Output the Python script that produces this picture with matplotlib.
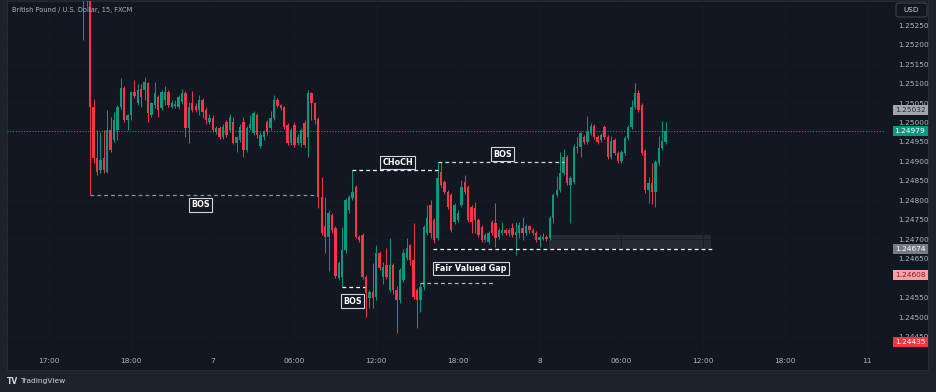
import matplotlib
matplotlib.use('Agg')
import matplotlib.pyplot as plt
import matplotlib.transforms as mtransforms
from matplotlib.patches import Rectangle, FancyBboxPatch

# GBPUSD 15m candles
opens = [
    1.25340, 1.25335, 1.25320, 1.25040, 1.24909, 1.24878, 1.24909, 1.24873, 1.24981, 1.24955,
    1.24981, 1.25040, 1.25089, 1.25006, 1.25019, 1.25079, 1.25050, 1.25086, 1.25084, 1.25102,
    1.25019, 1.25045, 1.25066, 1.25037, 1.25058, 1.25079, 1.25040, 1.25043, 1.25040, 1.25053,
    1.25076, 1.24986, 1.25050, 1.25043, 1.25032, 1.25058, 1.25032, 1.25001, 1.25012, 1.24976,
    1.24986, 1.24963, 1.25001, 1.24981, 1.25001, 1.24947, 1.24955, 1.25001, 1.24929, 1.24986,
    1.24973, 1.25019, 1.24940, 1.24963, 1.25001, 1.24986, 1.25012, 1.25058, 1.25045, 1.25040,
    1.24994, 1.24947, 1.24994, 1.24947, 1.24947, 1.24999, 1.24963, 1.25076, 1.25050, 1.25009,
    1.24808, 1.24734, 1.24706, 1.24762, 1.24729, 1.24600, 1.24603, 1.24672, 1.24775, 1.24806,
    1.24834, 1.24706, 1.24711, 1.24603, 1.24549, 1.24564, 1.24551, 1.24665, 1.24603, 1.24634,
    1.24570, 1.24634, 1.24570, 1.24544, 1.24595, 1.24652, 1.24685, 1.24647, 1.24570, 1.24544,
    1.24577, 1.24716, 1.24788, 1.24749, 1.24703, 1.24873, 1.24847, 1.24821, 1.24814, 1.24744,
    1.24749, 1.24788, 1.24847, 1.24834, 1.24783, 1.24780, 1.24749, 1.24731, 1.24698, 1.24693,
    1.24744, 1.24742, 1.24706, 1.24716, 1.24724, 1.24724, 1.24729, 1.24711, 1.24716, 1.24729,
    1.24716, 1.24734, 1.24724, 1.24716, 1.24698, 1.24701, 1.24706, 1.24703, 1.24755, 1.24814,
    1.24827, 1.24870, 1.24911, 1.24839, 1.24847, 1.24937, 1.24937, 1.24963, 1.24950, 1.24973,
    1.24991, 1.24963, 1.24955, 1.24988, 1.24963, 1.24911, 1.24955, 1.24922, 1.24901, 1.24922,
    1.24960, 1.24988, 1.25040, 1.25076, 1.25045, 1.24927, 1.24827, 1.24844, 1.24821, 1.24896,
    1.24934, 1.24950,
]
highs = [
    1.25360, 1.25350, 1.25335, 1.25060, 1.24981, 1.24976, 1.24981, 1.25032, 1.25014, 1.25027,
    1.25045, 1.25114, 1.25094, 1.25022, 1.25081, 1.25109, 1.25099, 1.25099, 1.25117, 1.25104,
    1.25053, 1.25104, 1.25071, 1.25084, 1.25094, 1.25084, 1.25058, 1.25058, 1.25071, 1.25086,
    1.25081, 1.25053, 1.25081, 1.25050, 1.25071, 1.25063, 1.25040, 1.25022, 1.25019, 1.24991,
    1.24991, 1.24996, 1.25006, 1.25022, 1.25014, 1.24966, 1.24996, 1.25014, 1.24991, 1.25019,
    1.25030, 1.25025, 1.24976, 1.24981, 1.25006, 1.25030, 1.25071, 1.25063, 1.25048, 1.25043,
    1.24999, 1.24986, 1.25001, 1.24970, 1.24986, 1.25006, 1.25084, 1.25079, 1.25053, 1.25014,
    1.24860, 1.24808, 1.24775, 1.24767, 1.24734, 1.24644, 1.24731, 1.24806, 1.24814, 1.24878,
    1.24839, 1.24711, 1.24716, 1.24608, 1.24570, 1.24639, 1.24685, 1.24670, 1.24641, 1.24677,
    1.24703, 1.24639, 1.24580, 1.24626, 1.24675, 1.24703, 1.24688, 1.24742, 1.24575, 1.24587,
    1.24737, 1.24788, 1.24801, 1.24755, 1.24898, 1.24898, 1.24852, 1.24827, 1.24819, 1.24793,
    1.24775, 1.24852, 1.24865, 1.24839, 1.24788, 1.24796, 1.24755, 1.24737, 1.24716, 1.24721,
    1.24749, 1.24793, 1.24729, 1.24744, 1.24729, 1.24729, 1.24742, 1.24744, 1.24744, 1.24757,
    1.24739, 1.24737, 1.24729, 1.24721, 1.24711, 1.24716, 1.24711, 1.24760, 1.24819, 1.24862,
    1.24924, 1.24932, 1.24917, 1.24862, 1.24945, 1.24963, 1.24976, 1.24968, 1.25017, 1.24999,
    1.24996, 1.24968, 1.24973, 1.24994, 1.24968, 1.24965, 1.24960, 1.24927, 1.24929, 1.24965,
    1.24994, 1.25058, 1.25102, 1.25084, 1.25050, 1.24932, 1.24860, 1.24896, 1.24904, 1.24965,
    1.25004, 1.25001,
]
lows = [
    1.25212, 1.25300, 1.24814, 1.24896, 1.24865, 1.24870, 1.24870, 1.24870, 1.24924, 1.24950,
    1.24955, 1.25035, 1.25001, 1.24981, 1.25006, 1.25063, 1.25045, 1.25040, 1.25058, 1.25001,
    1.25014, 1.25037, 1.25014, 1.25032, 1.25045, 1.25040, 1.25037, 1.25037, 1.25035, 1.25048,
    1.24963, 1.24947, 1.25027, 1.25027, 1.25019, 1.25012, 1.24996, 1.24996, 1.24976, 1.24970,
    1.24958, 1.24958, 1.24963, 1.24976, 1.24945, 1.24924, 1.24950, 1.24911, 1.24924, 1.24981,
    1.24968, 1.24960, 1.24934, 1.24955, 1.24968, 1.24981, 1.25006, 1.25040, 1.25032, 1.24983,
    1.24942, 1.24942, 1.24937, 1.24942, 1.24937, 1.24937, 1.24911, 1.25006, 1.24996, 1.24780,
    1.24711, 1.24665, 1.24619, 1.24716, 1.24600, 1.24595, 1.24577, 1.24665, 1.24767, 1.24801,
    1.24703, 1.24693, 1.24598, 1.24500, 1.24523, 1.24523, 1.24544, 1.24621, 1.24585, 1.24598,
    1.24564, 1.24559, 1.24459, 1.24536, 1.24590, 1.24647, 1.24634, 1.24546, 1.24472, 1.24513,
    1.24570, 1.24711, 1.24703, 1.24690, 1.24698, 1.24834, 1.24816, 1.24778, 1.24719, 1.24739,
    1.24744, 1.24783, 1.24816, 1.24744, 1.24716, 1.24716, 1.24706, 1.24693, 1.24693, 1.24688,
    1.24711, 1.24680, 1.24701, 1.24711, 1.24711, 1.24708, 1.24706, 1.24659, 1.24703, 1.24698,
    1.24711, 1.24716, 1.24711, 1.24693, 1.24680, 1.24698, 1.24696, 1.24698, 1.24742, 1.24808,
    1.24821, 1.24865, 1.24839, 1.24742, 1.24842, 1.24922, 1.24911, 1.24945, 1.24945, 1.24968,
    1.24958, 1.24945, 1.24950, 1.24958, 1.24906, 1.24906, 1.24917, 1.24896, 1.24896, 1.24917,
    1.24955, 1.24983, 1.25035, 1.25027, 1.24917, 1.24819, 1.24793, 1.24790, 1.24783, 1.24891,
    1.24929, 1.24945,
]
closes = [
    1.25320, 1.25320, 1.25040, 1.24909, 1.24873, 1.24904, 1.24878, 1.24981, 1.24929, 1.25006,
    1.25040, 1.25089, 1.25006, 1.25019, 1.25079, 1.25069, 1.25084, 1.25066, 1.25104, 1.25025,
    1.25050, 1.25076, 1.25032, 1.25079, 1.25079, 1.25045, 1.25050, 1.25048, 1.25066, 1.25076,
    1.24986, 1.25040, 1.25032, 1.25032, 1.25058, 1.25027, 1.25006, 1.25012, 1.24981, 1.24986,
    1.24963, 1.24988, 1.24968, 1.25014, 1.24947, 1.24963, 1.24988, 1.24929, 1.24986, 1.24996,
    1.25025, 1.24968, 1.24968, 1.24976, 1.24976, 1.25012, 1.25058, 1.25043, 1.25037, 1.24988,
    1.24947, 1.24981, 1.24942, 1.24963, 1.24981, 1.24942, 1.25076, 1.25050, 1.25006, 1.24808,
    1.24716, 1.24706, 1.24767, 1.24724, 1.24605, 1.24639, 1.24672, 1.24801, 1.24808, 1.24821,
    1.24706, 1.24698, 1.24603, 1.24562, 1.24564, 1.24549, 1.24665, 1.24626, 1.24629, 1.24603,
    1.24634, 1.24570, 1.24544, 1.24621, 1.24665, 1.24677, 1.24647, 1.24551, 1.24544, 1.24577,
    1.24731, 1.24755, 1.24716, 1.24698, 1.24857, 1.24839, 1.24821, 1.24783, 1.24724, 1.24788,
    1.24767, 1.24834, 1.24821, 1.24749, 1.24744, 1.24749, 1.24711, 1.24698, 1.24711, 1.24716,
    1.24716, 1.24703, 1.24724, 1.24724, 1.24716, 1.24716, 1.24711, 1.24719, 1.24737, 1.24716,
    1.24734, 1.24724, 1.24716, 1.24698, 1.24706, 1.24706, 1.24701, 1.24755, 1.24814, 1.24827,
    1.24870, 1.24911, 1.24844, 1.24857, 1.24937, 1.24934, 1.24973, 1.24950, 1.24976, 1.24991,
    1.24963, 1.24950, 1.24968, 1.24963, 1.24911, 1.24953, 1.24922, 1.24901, 1.24924, 1.24960,
    1.24988, 1.25040, 1.25076, 1.25032, 1.24922, 1.24827, 1.24844, 1.24821, 1.24898, 1.24934,
    1.24953, 1.24979,
]

time_ticks = [-10, 14, 38, 62, 86, 110, 134, 158, 182, 206, 230]
time_labels = ['17:00', '18:00', '7', '06:00', '12:00', '18:00', '8', '06:00', '12:00', '18:00', '11']
price_ticks = [1.2445, 1.2450, 1.2455, 1.2460, 1.2465, 1.2470, 1.2475, 1.2480, 1.2485,
               1.2490, 1.2495, 1.2500, 1.2505, 1.2510, 1.2515, 1.2520, 1.2525]
# labels that the price scale hides behind a badge
hidden_ticks = [1.2460]

last_price = 1.24979
badge_prices = [1.25032, 1.24979, 1.24674, 1.24608, 1.24435]
badge_bg = ['#a3a6af', '#089981', '#787b86', '#f7a1a6', '#f23645']
badge_fg = ['#2a2e39', '#ffffff', '#ffffff', '#8b1c24', '#ffffff']

bos1_level = 1.24814
bos2_level = 1.24577
choch_level = 1.24878
bos3_level = 1.24898
fvg_top = 1.24674
fvg_bottom = 1.24587
zone_top = 1.24711

UP = '#089981'
DOWN = '#f23645'
BG = '#131722'
OUTER = '#1e222d'
TXT = '#b2b5be'

W, H = 936, 392
fig = plt.figure(figsize=(W / 100, H / 100), dpi=100, facecolor=OUTER)
fig.add_artist(Rectangle((7 / W, 1 - 370 / H), (928 - 7) / W, 369 / H,
                         transform=fig.transFigure, fc=BG, ec='#2a2e39', lw=0.6, zorder=0))

ax = fig.add_axes([7 / W, 1 - 350 / H, (885 - 7) / W, 349 / H])
ax.set_facecolor(BG)
ax.patch.set_alpha(0)
for s in ax.spines.values():
    s.set_visible(False)

ax.set_xlim(-22.41, 235.4)
ax.set_ylim(1.244152, 1.253123)

ax.set_xticks(time_ticks)
ax.set_xticklabels(time_labels)
ax.set_yticks(price_ticks)
ax.set_yticklabels(['' if p in hidden_ticks else f'{p:.5f}' for p in price_ticks])
ax.yaxis.tick_right()
ax.tick_params(axis='x', length=0, pad=5.5, labelsize=5.3, labelcolor=TXT)
ax.tick_params(axis='y', length=0, pad=9.5, labelsize=5.3, labelcolor=TXT)
ax.grid(True, color='#171b26', lw=0.6, zorder=0)

# candles
min_h = 0.000026
for i in range(len(opens)):
    o, h, l, c = opens[i], highs[i], lows[i], closes[i]
    col = UP if c >= o else DOWN
    ax.vlines(i, l, h, color=col, lw=0.7, zorder=3)
    bh = max(abs(c - o), min_h)
    ax.bar(i, bh, bottom=min(o, c), width=0.7, color=col, lw=0, zorder=3)

# last price line
ax.axhline(last_price, color=UP, lw=0.8, ls=(0, (1, 1.5)), zorder=2)

# structure lines
dash = (0, (3, 2.5))
ax.hlines(bos1_level, 2, 69, color='#8f929b', lw=0.9, ls=dash, zorder=4)
ax.hlines(bos2_level, 76, 82.7, color='white', lw=0.9, ls=dash, zorder=4)
ax.hlines(choch_level, 79, 104, color='white', lw=0.9, ls=dash, zorder=4)
ax.hlines(bos3_level, 104, 141, color='#d1d4dc', lw=0.9, ls=dash, zorder=4)
ax.hlines(fvg_top, 102.7, 185, color='white', lw=0.9, ls=dash, zorder=4)
ax.hlines(fvg_bottom, 99, 121, color='#b2b5be', lw=0.9, ls=dash, zorder=4)
ax.add_patch(Rectangle((136.8, fvg_top), 184.3 - 136.8, zone_top - fvg_top,
                       fc='#2a2e39', ec='none', alpha=0.85, zorder=1))

box = dict(boxstyle='square,pad=0.28', fc=BG, ec='#d1d4dc', lw=0.8)
lab = dict(color='white', fontsize=5.8, fontweight='bold', ha='center', va='center', zorder=6, bbox=box)
ax.text(34.3, 1.24788, 'BOS', **lab)
ax.text(79.1, 1.24541, 'BOS', **lab)
ax.text(92.3, 1.24897, 'CHoCH', **lab)
ax.text(123.0, 1.24919, 'BOS', **lab)
ax.text(113.9, 1.24625, 'Fair Valued Gap', **lab)

# price scale badges
trans = mtransforms.blended_transform_factory(fig.transFigure, ax.transData)
bh_px = 10 * 0.0005 / 19.45
for p, bg, fg in zip(badge_prices, badge_bg, badge_fg):
    ax.add_patch(Rectangle((892.5 / W, p - bh_px / 2), 35 / W, bh_px, transform=trans,
                           fc=bg, ec='none', clip_on=False, zorder=7))
    ax.text(910 / W, p, f'{p:.5f}', transform=trans, color=fg, fontsize=5.3,
            ha='center', va='center', clip_on=False, zorder=8)

# USD box
fig.add_artist(FancyBboxPatch((896 / W, 1 - 17 / H), 31 / W, 14 / H,
                              boxstyle='round,pad=0,rounding_size=0.004',
                              transform=fig.transFigure, fc=BG, ec='#434651', lw=0.7))
fig.text(911.5 / W, 1 - 10 / H, 'USD', color='#d1d4dc', fontsize=5.2, ha='center', va='center')

# title
fig.text(12 / W, 1 - 10 / H, 'British Pound / U.S. Dollar, 15, FXCM', color=TXT,
         fontsize=4.8, ha='left', va='center')

# footer
fig.text(7 / W, 1 - 381 / H, 'TV', color='#d1d4dc', fontsize=5.5, fontweight='heavy',
         ha='left', va='center')
fig.text(20 / W, 1 - 381 / H, 'TradingView', color='#d1d4dc', fontsize=5.4,
         ha='left', va='center')

fig.savefig('out.png', dpi=100, facecolor=OUTER)
